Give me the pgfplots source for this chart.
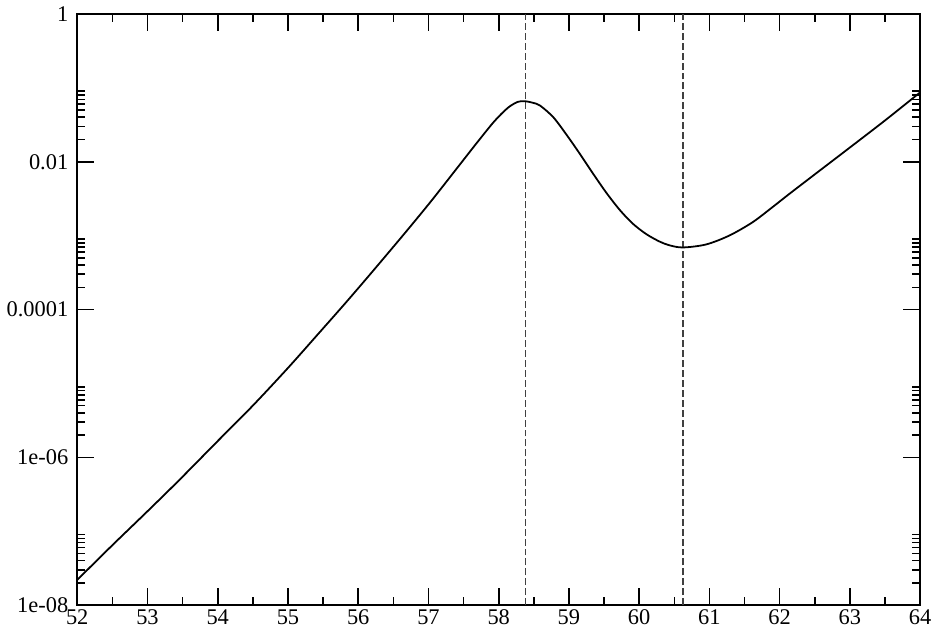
\documentclass[border=0pt]{standalone}
\usepackage{fontspec}
\setmainfont{Liberation Serif}
\usepackage{pgfplots}
\pgfplotsset{compat=1.18}

\begin{document}
\begin{tikzpicture}
\begin{axis}[
    scale only axis,
    width=425pt, height=298pt,
    ymode=log,
    xmin=52, xmax=64,
    ymin=1e-8, ymax=1,
    xtick={52,53,...,64},
    xticklabels={52,53,54,55,56,57,58,59,60,61,62,63,64},
    minor xtick={52.5,53.5,...,63.5},
    ytick={1e-8,1e-6,1e-4,1e-2,1},
    yticklabels={1e-08,1e-06,0.0001,0.01,1},
    minor ytick={2e-8,3e-8,4e-8,5e-8,6e-8,7e-8,8e-8,9e-8,
                 2e-6,3e-6,4e-6,5e-6,6e-6,7e-6,8e-6,9e-6,
                 2e-4,3e-4,4e-4,5e-4,6e-4,7e-4,8e-4,9e-4,
                 2e-2,3e-2,4e-2,5e-2,6e-2,7e-2,8e-2,9e-2},
    tick align=inside,
    major tick length=8.5pt,
    minor tick length=4pt,
    every tick/.style={black, line width=0.8pt},
    axis line style={line width=1pt},
    tick label style={font=\fontsize{11.3}{13}\selectfont},
    yticklabel style={xshift=-1pt},
    xticklabel style={yshift=1pt},
]
% dashed markers at the peak and the minimum
\addplot[color=black!75, line width=0.9pt, dash pattern=on 3.5pt off 1.5pt]
  coordinates {(58.38,1e-8)(58.38,1)};
\addplot[color=black!75, line width=0.9pt, dash pattern=on 3.5pt off 1.5pt]
  coordinates {(60.62,1e-8)(60.62,1)};
% curve
\addplot[black, line width=0.9pt, smooth] coordinates {
  (52.0,2.19e-8) (52.5,6.46e-8) (53.0,1.86e-7) (53.44,4.79e-7)
  (54.0,1.66e-6) (54.5,5.01e-6) (55.0,1.62e-5) (55.44,4.79e-5)
  (55.82,1.23e-4) (56.19,3.16e-4) (56.67,1.10e-3) (57.04,2.95e-3)
  (57.42,8.51e-3) (57.70,1.86e-2) (57.94,3.55e-2) (58.13,5.37e-2)
  (58.27,6.46e-2) (58.37,6.61e-2) (58.48,6.31e-2) (58.59,5.75e-2)
  (58.78,3.98e-2) (58.97,2.29e-2) (59.16,1.26e-2) (59.35,6.76e-3)
  (59.54,3.72e-3) (59.73,2.19e-3) (59.91,1.45e-3) (60.10,1.05e-3)
  (60.29,8.32e-4) (60.43,7.41e-4) (60.62,6.92e-4) (60.95,7.59e-4)
  (61.28,1.00e-3) (61.61,1.51e-3) (61.89,2.40e-3) (62.13,3.63e-3)
  (62.5,6.76e-3) (62.98,1.51e-2) (63.5,3.63e-2) (64.0,8.71e-2)
};
\end{axis}
\end{tikzpicture}
\end{document}
